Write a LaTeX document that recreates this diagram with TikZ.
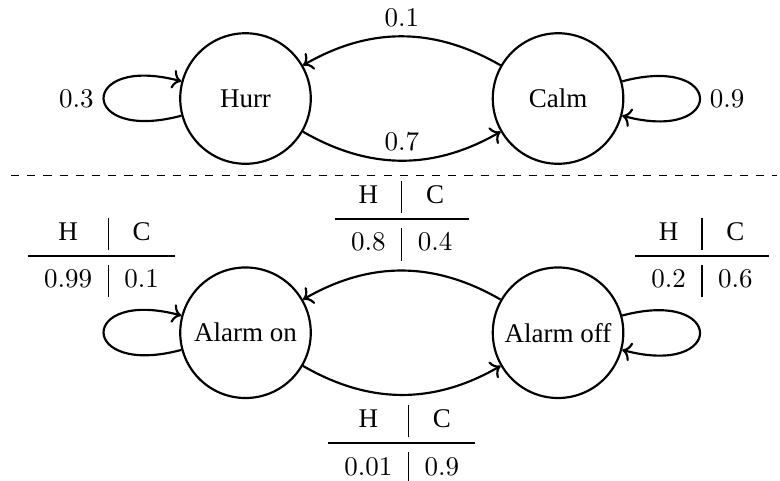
\documentclass[tikz,border=0pt]{standalone}
\usepackage[no-math]{fontspec}
\setmainfont{Liberation Serif}
\usepackage{booktabs}
\usetikzlibrary{arrows.meta}

\newcommand{\probtab}[2]{\begin{tabular}{c|c} H & C \\ \midrule[\heavyrulewidth] $#1$ & $#2$ \end{tabular}}

\begin{document}
\begin{tikzpicture}[thick,
  state/.style={draw,circle,minimum size=1.7cm},
  trans/.style={-{To}}]
  \useasboundingbox (-3.197,-4.98) rectangle (6.96,1.283);
  % weather chain
  \node[state] (hurr) at (0,0) {Hurr}; \node[state] (calm) at (4.07,0) {Calm};
  \draw[trans] (calm) to[bend right=30] node[above] (lch) {$0.1$} (hurr);
  \draw[trans] (hurr) to[bend right=30] node[above] (lhc) {$0.7$} (calm);
  \draw[trans] (hurr) to[loop left] node[left] (lhh) {$0.3$} ();
  \draw[trans] (calm) to[loop right] node[right] (lcc) {$0.9$} ();
  \draw[thin,dashed] (-3.053,-1.005) -- (6.92,-1.005);
  % alarm observations
  \node[state] (alon) at (0,-3.05) {Alarm on}; \node[state] (aloff) at (4.07,-3.05) {Alarm off};
  \draw[trans] (aloff) to[bend right=30] node[above] (taboffon) {\probtab{0.8}{0.4}} (alon);
  \draw[trans] (alon) to[bend right=30] node[below] (tabonoff) {\probtab{0.01}{0.9}} (aloff);
  \draw[trans] (alon) to[loop left] (alon);
  \draw[trans] (aloff) to[loop right] (aloff);
  \node (tabon) at (-1.875,-2.07) {\probtab{0.99}{0.1}};
  \node (taboff) at (5.944,-2.07) {\probtab{0.2}{0.6}};
\end{tikzpicture}
\end{document}
